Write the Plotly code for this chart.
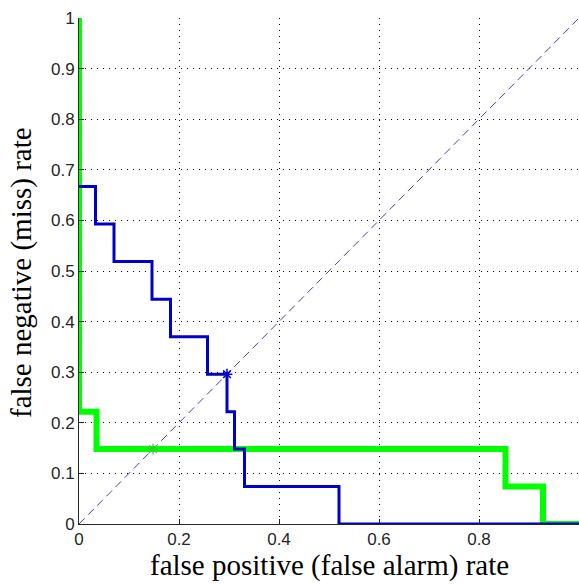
import plotly.graph_objects as go

# Blue DET curve (false positive rate vs false negative rate), step "hv"
blue_fp = [0, 0.033, 0.070, 0.146, 0.183, 0.257, 0.296, 0.311, 0.331, 0.52, 1.0]
blue_fn = [0.667, 0.593, 0.519, 0.444, 0.370, 0.296, 0.222, 0.148, 0.074, 0.0, 0.0]

# Green DET curve
green_fp = [0, 0, 0.035, 0.853, 0.928, 1.0]
green_fn = [1.0, 0.222, 0.148, 0.074, 0.0, 0.0]

# Equal error rate points
eer_blue = [0.296, 0.296]
eer_green = [0.148, 0.148]

# Diagonal
diag = [0, 1]

x_ticks = [0, 0.2, 0.4, 0.6, 0.8, 1]
x_tick_labels = ["0", "0.2", "0.4", "0.6", "0.8", "1"]
y_ticks = [0, 0.1, 0.2, 0.3, 0.4, 0.5, 0.6, 0.7, 0.8, 0.9, 1]
y_tick_labels = ["0", "0.1", "0.2", "0.3", "0.4", "0.5", "0.6", "0.7", "0.8", "0.9", "1"]

fig = go.Figure()

fig.add_trace(go.Scatter(x=diag, y=diag, mode="lines",
                         line=dict(color="#4a40b8", width=1, dash="8px,5px"),
                         showlegend=False, hoverinfo="skip"))
fig.add_trace(go.Scatter(x=green_fp, y=green_fn, mode="lines", line_shape="hv",
                         line=dict(color="#00ff00", width=6), showlegend=False))
fig.add_trace(go.Scatter(x=blue_fp, y=blue_fn, mode="lines", line_shape="hv",
                         line=dict(color="#0000cc", width=3), showlegend=False))
fig.add_trace(go.Scatter(x=[eer_green[0]], y=[eer_green[1]], mode="markers",
                         marker=dict(symbol="asterisk-open", size=9, color="#33cc33",
                                     line=dict(color="#33cc33", width=1.2)),
                         showlegend=False))
fig.add_trace(go.Scatter(x=[eer_blue[0]], y=[eer_blue[1]], mode="markers",
                         marker=dict(symbol="asterisk-open", size=9, color="#0000cc",
                                     line=dict(color="#0000cc", width=1.5)),
                         showlegend=False))

axis_common = dict(
    showgrid=True, gridcolor="#000000", gridwidth=1, griddash="1px,5px",
    zeroline=False, showline=True, linecolor="#262626", linewidth=1,
    ticks="inside", ticklen=5, tickcolor="#262626",
    tickfont=dict(family="Liberation Sans, Arial", size=17, color="#262626"),
    mirror=False,
)

fig.update_xaxes(range=[0, 1], tickvals=x_ticks, ticktext=x_tick_labels, **axis_common)
fig.update_yaxes(range=[0, 1], tickvals=y_ticks, ticktext=y_tick_labels, **axis_common)

fig.add_annotation(text="false positive (false alarm) rate", xref="paper", yref="paper",
                   x=0.5, y=-0.083, xanchor="center", yanchor="middle", showarrow=False,
                   font=dict(family="Liberation Serif, Times New Roman", size=29, color="#000000"))
fig.add_annotation(text="false negative (miss) rate", xref="paper", yref="paper",
                   x=-0.116, y=0.496, xanchor="center", yanchor="middle", showarrow=False,
                   textangle=-90,
                   font=dict(family="Liberation Serif, Times New Roman", size=29, color="#000000"))

fig.update_layout(
    width=579, height=584,
    margin=dict(l=79, r=0, t=18, b=60),
    paper_bgcolor="white", plot_bgcolor="white",
    showlegend=False,
)

fig.write_html("out.html")
